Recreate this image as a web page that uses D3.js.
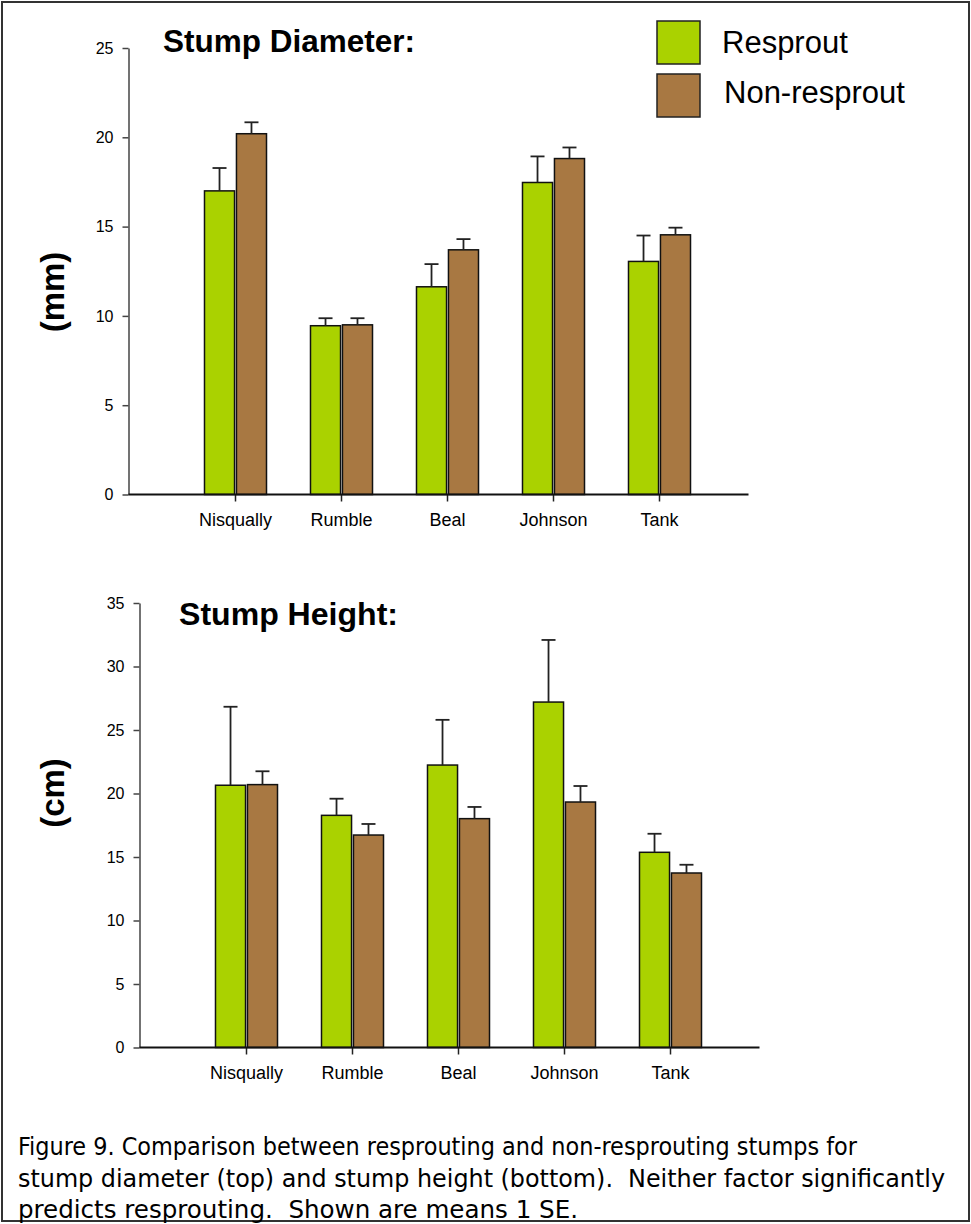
<!DOCTYPE html>
<html>
<head>
<meta charset="utf-8">
<script src="https://cdn.jsdelivr.net/npm/d3@7"></script>
<style>
  html, body { margin: 0; padding: 0; background: #fff; }
  svg { display: block; }
  text { font-family: "Liberation Sans", Arial, sans-serif; fill: #000; }
</style>
</head>
<body>
<svg id="chart" width="971" height="1224"></svg>
<script>
// ---------------- data ----------------
const categories = ["Nisqually", "Rumble", "Beal", "Johnson", "Tank"];
const seriesNames = ["Resprout", "Non-resprout"];
const seriesColors = ["#aad200", "#a87842"];

// Stump diameter (mm): means and 1 SE
const diameterResprout = [17.0, 9.45, 11.63, 17.47, 13.05];
const diameterResproutSE = [1.28, 0.42, 1.27, 1.46, 1.45];
const diameterNonResprout = [20.2, 9.5, 13.7, 18.81, 14.54];
const diameterNonResproutSE = [0.64, 0.37, 0.6, 0.62, 0.4];

// Stump height (cm): means and 1 SE
const heightResprout = [20.65, 18.28, 22.24, 27.2, 15.37];
const heightResproutSE = [6.18, 1.31, 3.56, 4.89, 1.46];
const heightNonResprout = [20.7, 16.73, 18.02, 19.33, 13.74];
const heightNonResproutSE = [1.05, 0.87, 0.92, 1.26, 0.65];

const diameterTicks = [0, 5, 10, 15, 20, 25];
const heightTicks = [0, 5, 10, 15, 20, 25, 30, 35];

const captionLines = [
  "Figure 9. Comparison between resprouting and non-resprouting stumps for",
  "stump diameter (top) and stump height (bottom).  Neither factor significantly",
  "predicts resprouting.  Shown are means 1 SE."
];

// ---------------- drawing ----------------
const svg = d3.select("#chart");

// outer frame
svg.append("rect")
  .attr("x", 2).attr("y", 2).attr("width", 967).attr("height", 1219)
  .attr("fill", "none").attr("stroke", "#333").attr("stroke-width", 2);

function panel(opts) {
  const g = svg.append("g");
  const y = d3.scaleLinear().domain([0, opts.yMax]).range([opts.y0, opts.yTop]);
  const x0 = d3.scaleBand().domain(categories)
    .range([opts.center0 - 53, opts.center0 - 53 + 530])
    .paddingInner(0.415).paddingOuter(0.2075);
  const x1 = d3.scaleBand().domain(seriesNames)
    .range([0, x0.bandwidth()]).paddingInner(0.06);

  const rows = [];
  categories.forEach((c, i) => {
    rows.push({ cat: c, s: seriesNames[0], v: opts.a[i], se: opts.aSE[i], col: seriesColors[0] });
    rows.push({ cat: c, s: seriesNames[1], v: opts.b[i], se: opts.bSE[i], col: seriesColors[1] });
  });

  // y axis
  const yAxis = d3.axisLeft(y).tickValues(opts.ticks).tickSize(6).tickSizeOuter(0).tickPadding(9);
  const ya = g.append("g").attr("transform", `translate(${opts.axisX},0)`).call(yAxis);
  ya.select(".domain").attr("stroke", "#444").attr("stroke-width", 1.5);
  ya.selectAll(".tick line").attr("stroke", "#444").attr("stroke-width", 1.5);
  ya.selectAll(".tick text").attr("font-size", 16).attr("font-family", "Liberation Sans, Arial, sans-serif").attr("fill", "#000");

  // bars
  g.selectAll("rect.bar").data(rows).enter().append("rect")
    .attr("class", "bar")
    .attr("x", d => x0(d.cat) + x1(d.s))
    .attr("width", x1.bandwidth())
    .attr("y", d => y(d.v))
    .attr("height", d => y(0) - y(d.v))
    .attr("fill", d => d.col)
    .attr("stroke", "#111").attr("stroke-width", 1.5);

  // error bars
  const eb = g.selectAll("g.err").data(rows).enter().append("g").attr("class", "err");
  eb.append("line")
    .attr("x1", d => x0(d.cat) + x1(d.s) + x1.bandwidth() / 2)
    .attr("x2", d => x0(d.cat) + x1(d.s) + x1.bandwidth() / 2)
    .attr("y1", d => y(d.v)).attr("y2", d => y(d.v + d.se))
    .attr("stroke", "#222").attr("stroke-width", 1.8);
  eb.append("line")
    .attr("x1", d => x0(d.cat) + x1(d.s) + x1.bandwidth() / 2 - 7)
    .attr("x2", d => x0(d.cat) + x1(d.s) + x1.bandwidth() / 2 + 7)
    .attr("y1", d => y(d.v + d.se)).attr("y2", d => y(d.v + d.se))
    .attr("stroke", "#222").attr("stroke-width", 1.8);

  // x axis
  const xAxis = d3.axisBottom(x0).tickSize(7).tickSizeOuter(0).tickPadding(12);
  const xa = g.append("g").attr("transform", `translate(0,${y(0)})`).call(xAxis);
  xa.select(".domain").remove();
  xa.selectAll(".tick line").attr("stroke", "#222").attr("stroke-width", 1.5);
  xa.selectAll(".tick text").attr("font-size", 18).attr("font-family", "Liberation Sans, Arial, sans-serif").attr("fill", "#000");
  g.append("line")
    .attr("x1", opts.axisX).attr("x2", opts.axisX + 620)
    .attr("y1", y(0)).attr("y2", y(0))
    .attr("stroke", "#111").attr("stroke-width", 2);

  // title
  g.append("text").attr("x", opts.titleX).attr("y", opts.titleY)
    .attr("font-size", 31).attr("font-weight", "bold")
    .attr("textLength", opts.titleLen).attr("lengthAdjust", "spacingAndGlyphs")
    .text(opts.title);

  // y label
  g.append("text")
    .attr("transform", `translate(64,${opts.labelY}) rotate(-90)`)
    .attr("text-anchor", "middle")
    .attr("font-size", 33).attr("font-weight", "bold")
    .text(opts.ylabel);
}

panel({
  a: diameterResprout, aSE: diameterResproutSE,
  b: diameterNonResprout, bSE: diameterNonResproutSE,
  yMax: 25, ticks: diameterTicks, y0: 494.5, yTop: 48,
  axisX: 128.5, center0: 235.5,
  title: "Stump Diameter:", titleX: 163, titleY: 52, titleLen: 252,
  ylabel: "(mm)", labelY: 292
});

panel({
  a: heightResprout, aSE: heightResproutSE,
  b: heightNonResprout, bSE: heightNonResproutSE,
  yMax: 35, ticks: heightTicks, y0: 1047.5, yTop: 603,
  axisX: 139.5, center0: 246.5,
  title: "Stump Height:", titleX: 179, titleY: 625, titleLen: 219,
  ylabel: "(cm)", labelY: 793
});

// legend
const leg = svg.append("g");
seriesNames.forEach((s, i) => {
  leg.append("rect")
    .attr("x", 657).attr("y", 21 + i * 53).attr("width", 43).attr("height", 43)
    .attr("fill", seriesColors[i]).attr("stroke", "#222").attr("stroke-width", 1.5);
});
leg.append("text").attr("x", 722).attr("y", 53).attr("font-size", 31).text(seriesNames[0]);
leg.append("text").attr("x", 724).attr("y", 103).attr("font-size", 31).text(seriesNames[1]);

// caption
const capLens = [839, 927, 560];
captionLines.forEach((t, i) => {
  svg.append("text")
    .attr("x", 18).attr("y", 1155 + i * 31.5)
    .attr("font-size", 24)
    .attr("textLength", capLens[i]).attr("lengthAdjust", "spacingAndGlyphs")
    .style("font-family", "'DejaVu Sans Condensed', 'DejaVu Sans', Verdana, sans-serif")
    .style("white-space", "pre")
    .text(t);
});
</script>
</body>
</html>
